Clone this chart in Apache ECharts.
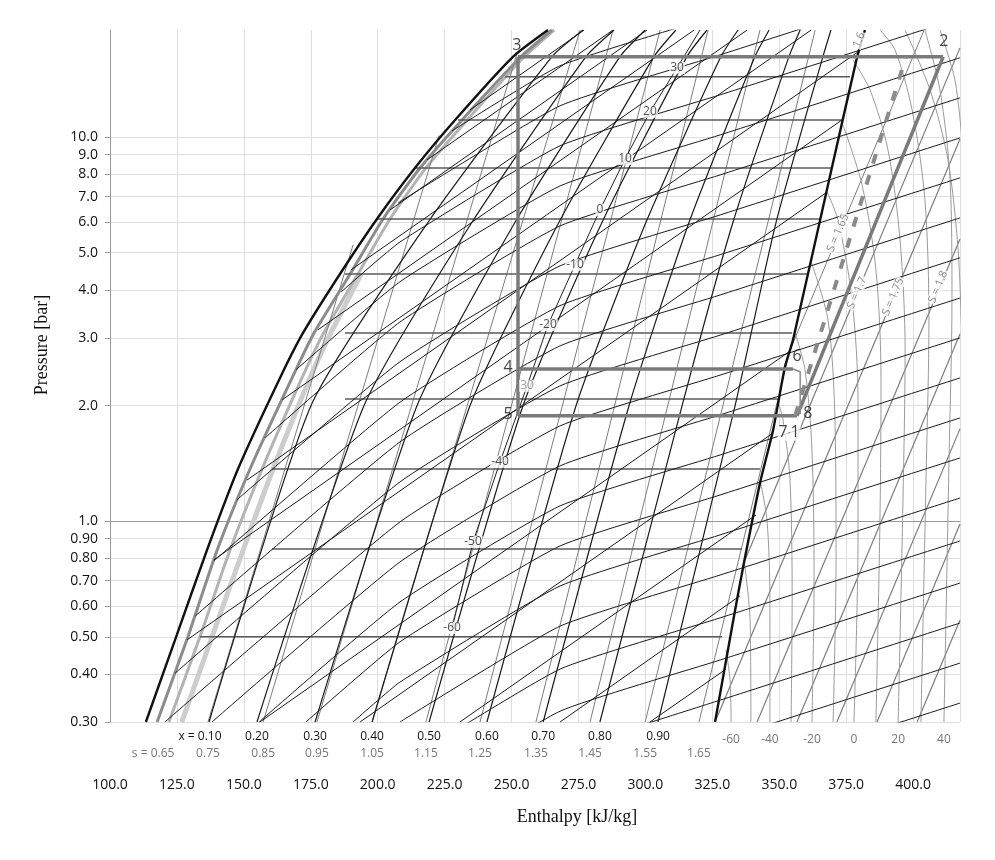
<!DOCTYPE html>
<html>
<head>
<meta charset="utf-8">
<title>p-h diagram</title>
<script src="https://cdn.jsdelivr.net/npm/echarts@6/dist/echarts.min.js"></script>
<style>html,body{margin:0;background:#fff}#chart{width:995px;height:860px}</style>
</head>
<body>
<div id="chart"></div>
<script>
const pTicks = [0.3, 0.4, 0.5, 0.6, 0.7, 0.8, 0.9, 1, 2, 3, 4, 5, 6, 7, 8, 9, 10];
const pTickLabels = ['0.30', '0.40', '0.50', '0.60', '0.70', '0.80', '0.90', '1.0', '2.0', '3.0', '4.0', '5.0', '6.0', '7.0', '8.0', '9.0', '10.0'];
const hTicks = [100, 125, 150, 175, 200, 225, 250, 275, 300, 325, 350, 375, 400];

// rows of labels under the axis (enthalpy where each label sits)
const qualityTickH = [133.6, 154.9, 176.6, 197.9, 219.2, 240.8, 261.8, 283.0, 304.7];
const qualityTickLabels = ['x = 0.10', '0.20', '0.30', '0.40', '0.50', '0.60', '0.70', '0.80', '0.90'];
const entropyTickH = [116.1, 136.6, 157.2, 177.3, 197.9, 218.0, 238.2, 259.1, 279.3, 299.9, 320.0];
const entropyTickLabels = ['s = 0.65', '0.75', '0.85', '0.95', '1.05', '1.15', '1.25', '1.35', '1.45', '1.55', '1.65'];
const tempTickH = [332.0, 346.5, 362.2, 377.9, 394.4, 411.5];
const tempTickLabels = ['-60', '-40', '-20', '0', '20', '40'];

// [h kJ/kg, p bar]
const satLiquid = [[113.4,0.30],[124.7,0.50],[136.2,0.84],[147.8,1.367],[163.5,2.36],[172.1,3.09],[185.9,4.40],[199.7,6.12],[213.9,8.31],[228.9,11.08],[250.5,16.18],[263.6,19.0]];
const satVapour = [[326.0,0.30],[333.5,0.587],[336.5,0.760],[342.8,1.258],[347.7,1.728],[352.1,2.52],[355.1,2.96],[369.7,8.36],[379.0,16.08],[380.9,17.9],[382.0,19.0]];
const liquidBand = [
  [[117.6,0.30],[129.1,0.50],[140.0,0.84],[152.3,1.367],[168.0,2.36],[176.2,3.09],[189.7,4.40],[202.0,6.12],[215.8,8.31],[231.5,11.08],[253.5,16.18],[265.1,19.0]],
  [[122.0,0.30],[133.6,0.50],[144.8,0.84],[156.8,1.367],[171.7,2.36],[179.8,3.09],[192.6,4.40],[204.6,6.12],[218.0,8.31],[233.4,11.08],[254.7,16.18],[265.9,19.0]],
  [[126.8,0.30],[138.1,0.50],[149.7,0.84],[160.9,1.367],[174.7,2.36],[182.5,3.09],[193.8,4.40]]
];

const qualityLines = [
  [[137.0,0.30],[175.1,2.0],[218.8,6.0],[265.1,16.2],[276.7,19.0]],
  [[154.9,0.30],[194.9,2.0],[235.2,6.0],[277.8,16.2],[288.3,19.0]],
  [[176.6,0.30],[214.7,2.0],[251.3,6.0],[290.5,16.2],[299.9,19.0]],
  [[197.9,0.30],[234.5,2.0],[267.7,6.0],[303.2,16.2],[311.4,19.0]],
  [[219.2,0.30],[254.3,2.0],[283.8,6.0],[315.5,16.2],[323.0,19.0]],
  [[240.8,0.30],[274.1,2.0],[300.2,6.0],[328.2,16.2],[334.6,19.0]],
  [[261.8,0.30],[293.9,2.0],[316.3,6.0],[340.9,16.2],[346.2,19.0]],
  [[283.0,0.30],[313.7,2.0],[332.7,6.0],[353.6,16.2],[357.8,19.0]],
  [[304.7,0.30],[333.5,2.0],[348.8,6.0],[366.3,16.2],[369.3,19.0]]
];

const domeEntropyLines = [
  [[136.6,0.30],[190.8,5.24]],
  [[157.2,0.30],[222.9,10.1]],
  [[177.3,0.30],[252.0,16.5]],
  [[197.9,0.30],[275.6,19.0]],
  [[218.0,0.30],[287.9,19.0]],
  [[238.2,0.30],[305.5,19.0]],
  [[259.1,0.30],[323.4,19.0]],
  [[279.3,0.30],[342.8,19.0]],
  [[299.9,0.30],[363.4,19.0]],
  [[320.0,0.30],[354.0,2.79],[404.1,19.0]]
];

const vapourEntropyLines = [
  [[337.2,0.792],[417.5,17.07]],
  [[326.0,0.30],[417.5,9.89]],
  [[341.7,0.30],[417.5,5.43]],
  [[356.6,0.30],[417.5,3.07]],
  [[371.5,0.30],[417.5,1.739]],
  [[386.5,0.30],[417.5,0.983]],
  [[401.5,0.30],[417.5,0.553]]
];

// gentle lines that run from the liquid side out to the right edge
const slopeLines = [
  [[417.5,0.336],[327.9,0.212]],
  [[417.5,0.427],[327.9,0.269]],
  [[417.5,0.543],[327.9,0.342],[268.1,0.252]],
  [[417.5,0.690],[327.9,0.435],[268.1,0.320],[208.3,0.180]],
  [[417.5,0.888],[327.9,0.560],[268.1,0.412],[208.3,0.232]],
  [[417.5,1.149],[327.9,0.724],[268.1,0.533],[208.3,0.300]],
  [[417.5,1.461],[327.9,0.921],[268.1,0.678],[208.3,0.381],[190.8,0.300]],
  [[417.5,1.857],[327.9,1.170],[268.1,0.862],[208.3,0.485],[173.2,0.300]],
  [[417.5,2.36],[327.9,1.487],[268.1,1.096],[208.3,0.616],[155.7,0.300]],
  [[417.5,3.00],[327.9,1.891],[268.1,1.393],[208.3,0.783],[138.1,0.300]],
  [[417.5,3.81],[327.9,2.40],[268.1,1.770],[208.3,0.995],[120.5,0.300]],
  [[417.5,4.85],[327.9,3.05],[268.1,2.25],[208.3,1.265],[124.3,0.402]],
  [[417.5,6.16],[327.9,3.88],[268.1,2.86],[208.3,1.608],[131.8,0.566]],
  [[417.5,7.83],[327.9,4.94],[268.1,3.64],[208.3,2.04],[138.8,0.788]],
  [[417.5,9.95],[327.9,6.27],[268.1,4.62],[208.3,2.60],[147.4,1.136]],
  [[417.5,12.65],[327.9,7.97],[268.1,5.87],[208.3,3.30],[157.9,1.647]],
  [[417.5,16.09],[327.9,10.13],[268.1,7.46],[208.3,4.20],[169.5,2.48]],
  [[417.5,20.4],[327.9,12.88],[268.1,9.49],[208.3,5.33],[186.3,3.95]],
  [[417.5,26.0],[327.9,16.37],[268.1,12.06],[207.6,6.74]],
  [[327.9,20.8],[268.1,15.33],[227.8,10.38]]
];

// steeper lines that cross the two-phase region and stop at the vapour line
const domeCrossLines = [
  [[156.0,0.30],[353.6,2.76]],
  [[193.4,0.30],[347.7,1.697]],
  [[230.7,0.30],[341.3,1.038]],
  [[268.1,0.30],[335.3,0.639]],
  [[301.7,0.30],[330.1,0.412]],
  [[128.8,0.491],[367.5,7.16]],
  [[138.8,0.793],[373.4,11.08]],
  [[151.2,1.280],[379.4,16.67]],
  [[164.3,2.07],[361.9,19.0]],
  [[177.7,3.15],[338.0,19.0]],
  [[190.0,4.51],[318.2,19.0]],
  [[204.6,6.46],[300.6,19.0]],
  [[218.4,8.72],[287.9,19.0]],
  [[234.5,11.77],[277.1,19.0]]
];

const vapourIsotherms = [
  [[332.0,0.30],[331.6,0.386],[330.1,0.462]],
  [[339.4,0.30],[339.1,0.553],[336.8,0.793]],
  [[346.5,0.30],[346.5,0.623],[345.4,1.007],[342.8,1.280]],
  [[354.4,0.30],[354.8,0.623],[354.0,1.280],[351.4,1.835],[349.9,2.007]],
  [[362.2,0.30],[363.0,0.703],[362.2,1.533],[359.6,2.48],[355.9,3.09]],
  [[370.1,0.30],[371.2,0.793],[370.8,1.835],[368.2,3.34],[361.9,4.73]],
  [[377.9,0.30],[379.4,0.893],[379.4,2.07],[377.2,3.77],[371.9,6.09],[367.5,7.29]],
  [[386.1,0.30],[387.6,1.007],[388.0,2.33],[386.1,4.51],[380.9,7.51],[373.8,10.76]],
  [[394.4,0.30],[396.2,1.136],[397.0,2.79],[395.1,5.40],[390.6,9.26],[383.9,13.27],[377.5,15.89]],
  [[402.9,0.30],[404.8,1.280],[405.9,3.34],[404.4,6.86],[399.6,11.77],[393.2,16.87],[387.6,19.0]],
  [[411.5,0.30],[413.4,1.444],[414.5,3.77],[413.8,7.74],[410.0,13.27],[404.4,19.0]],
  [[418.3,2.79],[416.8,5.08],[413.0,8.72],[406.3,13.27],[397.0,19.0]],
  [[418.6,9.26],[415.6,14.09],[410.0,19.0]]
];

const isobarP = [14.35, 11.08, 8.31, 6.12, 4.40, 3.09, 2.08, 1.367, 0.846, 0.50];
const isobarFrom = [247.6, 230.0, 213.9, 199.7, 187.8, 187.8, 187.8, 160.5, 160.5, 133.6];
const isobarTo = [376.4, 373.4, 369.7, 365.2, 360.4, 354.8, 350.3, 342.8, 336.1, 328.6];

const cycleLines = [
  [[252.4,16.18],[411.2,16.18]],
  [[252.4,16.18],[252.4,1.88]],
  [[252.4,2.49],[355.1,2.49]],
  [[252.4,1.88],[356.6,1.88]],
  [[356.6,1.88],[411.2,16.18]]
];
const cycleLink = [[355.1,2.49],[357.8,2.45],[357.8,1.90]];
const compression = [[355.9,1.88],[397.3,16.18]];

const labelChain = [[227.8,0.527],[235.6,0.883],[245.7,1.427],[255.8,2.25],[263.6,3.24],[273.7,4.65],[283.0,6.46],[292.4,8.77],[301.7,11.63],[311.8,15.14],[320.4,19.0]];
const tempLabels = [['-60',227.8,0.527],['-50',235.6,0.883],['-40',245.7,1.427],['-20',263.6,3.24],['-10',273.7,4.65],['0',283.0,6.46],['10',292.4,8.77],['20',301.7,11.63],['30',311.8,15.14]];
const greyTempLabels = [['30',255.8,2.25]];
const entropyLabels = [['S = 1.65',371.9,5.63],['S = 1.7',379.0,3.93],['S = 1.75',392.5,3.84],['S = 1.8',409.3,4.07],['1.6',379.8,17.9]];
const pointLabels = [['3',252.0,17.28],['2',411.5,17.70],['4',248.7,2.52],['5',248.7,1.90],['6',356.6,2.69],['8',360.7,1.91]];
const boxedPointLabels = [['7',351.4,1.70],['1',355.9,1.70]];

const lg = p => Math.log10(p);
const H_MIN = 100, H_MAX = 417.5;
const SANS = 'Open Sans';

function pick(values, texts) {
  return v => {
    let best = 0;
    values.forEach((x, i) => { if (Math.abs(x - v) < Math.abs(values[best] - v)) best = i; });
    return texts[best];
  };
}

function path(pts, style, z, smooth) {
  return {
    type: 'line', data: pts.map(([h, p]) => [h, lg(p)]), symbol: 'none', silent: true, animation: false,
    smooth: smooth || false, z: z || 2, lineStyle: style
  };
}

function texts(items, label) {
  return {
    type: 'scatter', symbolSize: 1, silent: true, animation: false, z: 20,
    itemStyle: { color: 'transparent' },
    data: items.map(([t, h, p]) => ({ value: [h, lg(p)], label: { formatter: t } })),
    label: Object.assign({ show: true, position: 'inside', fontFamily: SANS }, label)
  };
}

function underAxis(values, labels, margin, color) {
  return {
    type: 'value', min: H_MIN, max: H_MAX, position: 'bottom',
    axisLine: { show: false }, axisTick: { show: false }, splitLine: { show: false },
    axisLabel: { customValues: values, formatter: pick(values, labels), margin: margin, fontSize: 12, color: color, fontFamily: SANS }
  };
}

const series = [];
liquidBand.forEach((l, i) => series.push(path(l, { color: ['#8c8c8c', '#b3b3b3', '#cdcdcd'][i], width: [3, 3, 5][i] }, 3 - i, 0.2)));
domeEntropyLines.forEach(l => series.push(path(l, { color: '#7d7d7d', width: 1 })));
vapourEntropyLines.forEach(l => series.push(path(l, { color: '#7d7d7d', width: 1.2 })));
vapourIsotherms.forEach(l => series.push(path(l, { color: '#9a9a9a', width: 1 }, 2, 0.3)));
isobarP.forEach((p, i) => series.push(path([[isobarFrom[i], p], [isobarTo[i], p]], { color: '#5a5a5a', width: 1.6 }, 3)));
slopeLines.forEach(l => series.push(path(l, { color: '#1a1a1a', width: 1 }, 4, 0.15)));
domeCrossLines.forEach(l => series.push(path(l, { color: '#1a1a1a', width: 1 }, 4)));
qualityLines.forEach(l => series.push(path(l, { color: '#1a1a1a', width: 1.2 }, 4, 0.2)));
series.push(path(labelChain, { color: '#222', width: 1 }, 4));
series.push(path(satLiquid, { color: '#111', width: 2.4 }, 6, 0.2));
series.push(path(satVapour, { color: '#111', width: 2.4 }, 6, 0.2));
cycleLines.forEach(l => series.push(path(l, { color: '#7a7a7a', width: 3.5 }, 8)));
series.push(path(cycleLink, { color: '#8a8a8a', width: 1.5 }, 8));
series.push(path(compression, { color: '#8a8a8a', width: 4, type: [10, 12] }, 8));
series.push(texts(tempLabels, { fontSize: 12, color: '#222', backgroundColor: '#fff', padding: [0, 1] }));
series.push(texts(greyTempLabels, { fontSize: 12, color: '#888', backgroundColor: '#fff', padding: [0, 1] }));
series.push(texts(entropyLabels, { fontSize: 11, color: '#666', rotate: 67, backgroundColor: '#fff', padding: [0, 1] }));
series.push(texts(pointLabels, { fontSize: 16, color: '#111' }));
series.push(texts(boxedPointLabels, { fontSize: 16, color: '#111', backgroundColor: '#fff', padding: [0, 1] }));

const chart = echarts.init(document.getElementById('chart'));
chart.setOption({
  backgroundColor: '#fff',
  animation: false,
  grid: { left: 110, right: 35, top: 30, bottom: 138 },
  xAxis: [
    {
      type: 'value', min: H_MIN, max: H_MAX, interval: 25,
      axisLine: { lineStyle: { color: '#999' } }, axisTick: { show: false },
      axisLabel: { customValues: hTicks, formatter: v => v.toFixed(1), margin: 56, fontSize: 14, color: '#111', fontFamily: SANS },
      splitLine: { show: true, lineStyle: { color: '#dedede' } },
      name: 'Enthalpy [kJ/kg]', nameLocation: 'middle', nameGap: 86,
      nameTextStyle: { fontFamily: 'Liberation Serif', fontSize: 18, color: '#111', padding: [0, 0, 0, 84] }
    },
    underAxis(qualityTickH, qualityTickLabels, 9, '#111'),
    underAxis(entropyTickH, entropyTickLabels, 26, '#777'),
    underAxis(tempTickH, tempTickLabels, 12, '#777')
  ],
  yAxis: {
    type: 'value', min: lg(0.3), max: lg(19),
    axisLine: { show: true, lineStyle: { color: '#999' } },
    axisTick: { show: true, customValues: pTicks.map(lg), length: 5, lineStyle: { color: '#999' } },
    axisLabel: { customValues: pTicks.map(lg), formatter: pick(pTicks.map(lg), pTickLabels), margin: 12, fontSize: 14, color: '#111', fontFamily: SANS },
    splitLine: { show: true, lineStyle: { color: '#dedede' } },
    name: 'Pressure [bar]', nameLocation: 'middle', nameGap: 59,
    nameTextStyle: { fontFamily: 'Liberation Serif', fontSize: 18, color: '#111', padding: [0, 0, 0, 62] }
  },
  series: series
});
</script>
</body>
</html>
